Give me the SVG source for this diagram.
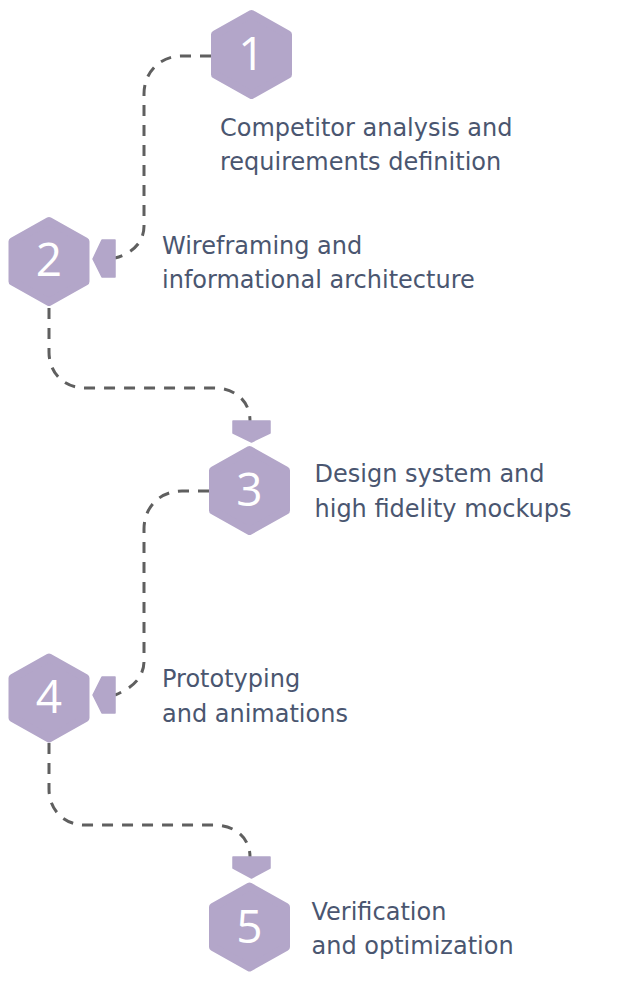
<svg xmlns="http://www.w3.org/2000/svg" xmlns:xlink="http://www.w3.org/1999/xlink" width="643" height="982" viewBox="0 0 643 982">
  <style>
    .hex { fill: #b3a6c9; stroke: #b3a6c9; stroke-width: 8; stroke-linejoin: round; }
    .ptr { fill: #b3a6c9; stroke: #b3a6c9; stroke-width: 1.5; stroke-linejoin: round; }
    .num { font-family: "Open Sans", "DejaVu Sans", sans-serif; font-weight: 400; font-size: 46px; fill: #ffffff; text-anchor: middle; }
    .lbl { font-family: "DejaVu Sans", "Open Sans", sans-serif; font-size: 24px; fill: #4a5670; }
    .conn { fill: none; stroke: #5f5f5f; stroke-width: 3; stroke-dasharray: 11 9; }
  </style>
  <defs>
    <polygon id="hexshape" points="0,-40.5 36.5,-20 36.5,20 0,40.5 -36.5,20 -36.5,-20"/>
  </defs>
  <rect width="643" height="982" fill="#ffffff"/>

  <g id="connectors">
    <path class="conn" d="M211,56 H182 C160,56 144,72 144,94 V226 C144,244 130,254 115,258"/>
    <path class="conn" d="M49,308 V352 C49,373 64,388 85,388 H214 C234,388 250,400 250,421"/>
    <path class="conn" d="M209,491 H182 C160,491 144,507 144,529 V661 C144,679 130,689 115,695"/>
    <path class="conn" d="M49,743 V789 C49,810 64,825 85,825 H214 C234,825 250,837 250,857"/>
  </g>

  <g id="step1">
    <use xlink:href="#hexshape" class="hex" transform="translate(251.5,54.5)"/>
    <text class="num" x="251.5" y="70">1</text>
    <text class="lbl" x="220" y="135.5">Competitor analysis and</text>
    <text class="lbl" x="220" y="169.5">requirements definition</text>
  </g>

  <g id="step2">
    <use xlink:href="#hexshape" class="hex" transform="translate(49,261.5)"/>
    <polygon class="ptr" points="115,240 102,240 93,259 102,277 115,277"/>
    <text class="num" x="49" y="275.5">2</text>
    <text class="lbl" x="162" y="254">Wireframing and</text>
    <text class="lbl" x="162" y="288">informational architecture</text>
  </g>

  <g id="step3">
    <use xlink:href="#hexshape" class="hex" transform="translate(249.5,490.5)"/>
    <polygon class="ptr" points="233,421 270,421 270,433 251.5,442 233,433"/>
    <text class="num" x="249.5" y="506">3</text>
    <text class="lbl" x="314.5" y="482">Design system and</text>
    <text class="lbl" x="314.5" y="516.5">high fidelity mockups</text>
  </g>

  <g id="step4">
    <use xlink:href="#hexshape" class="hex" transform="translate(49,698)"/>
    <polygon class="ptr" points="115,677 102,677 93,695 102,713 115,713"/>
    <text class="num" x="49" y="713">4</text>
    <text class="lbl" x="162" y="687">Prototyping</text>
    <text class="lbl" x="162" y="721.5">and animations</text>
  </g>

  <g id="step5">
    <use xlink:href="#hexshape" class="hex" transform="translate(249.5,927)"/>
    <polygon class="ptr" points="233,857 270,857 270,868 251.5,878 233,868"/>
    <text class="num" x="249.5" y="942.5">5</text>
    <text class="lbl" x="311.5" y="919.5">Verification</text>
    <text class="lbl" x="311.5" y="953.5">and optimization</text>
  </g>
</svg>
